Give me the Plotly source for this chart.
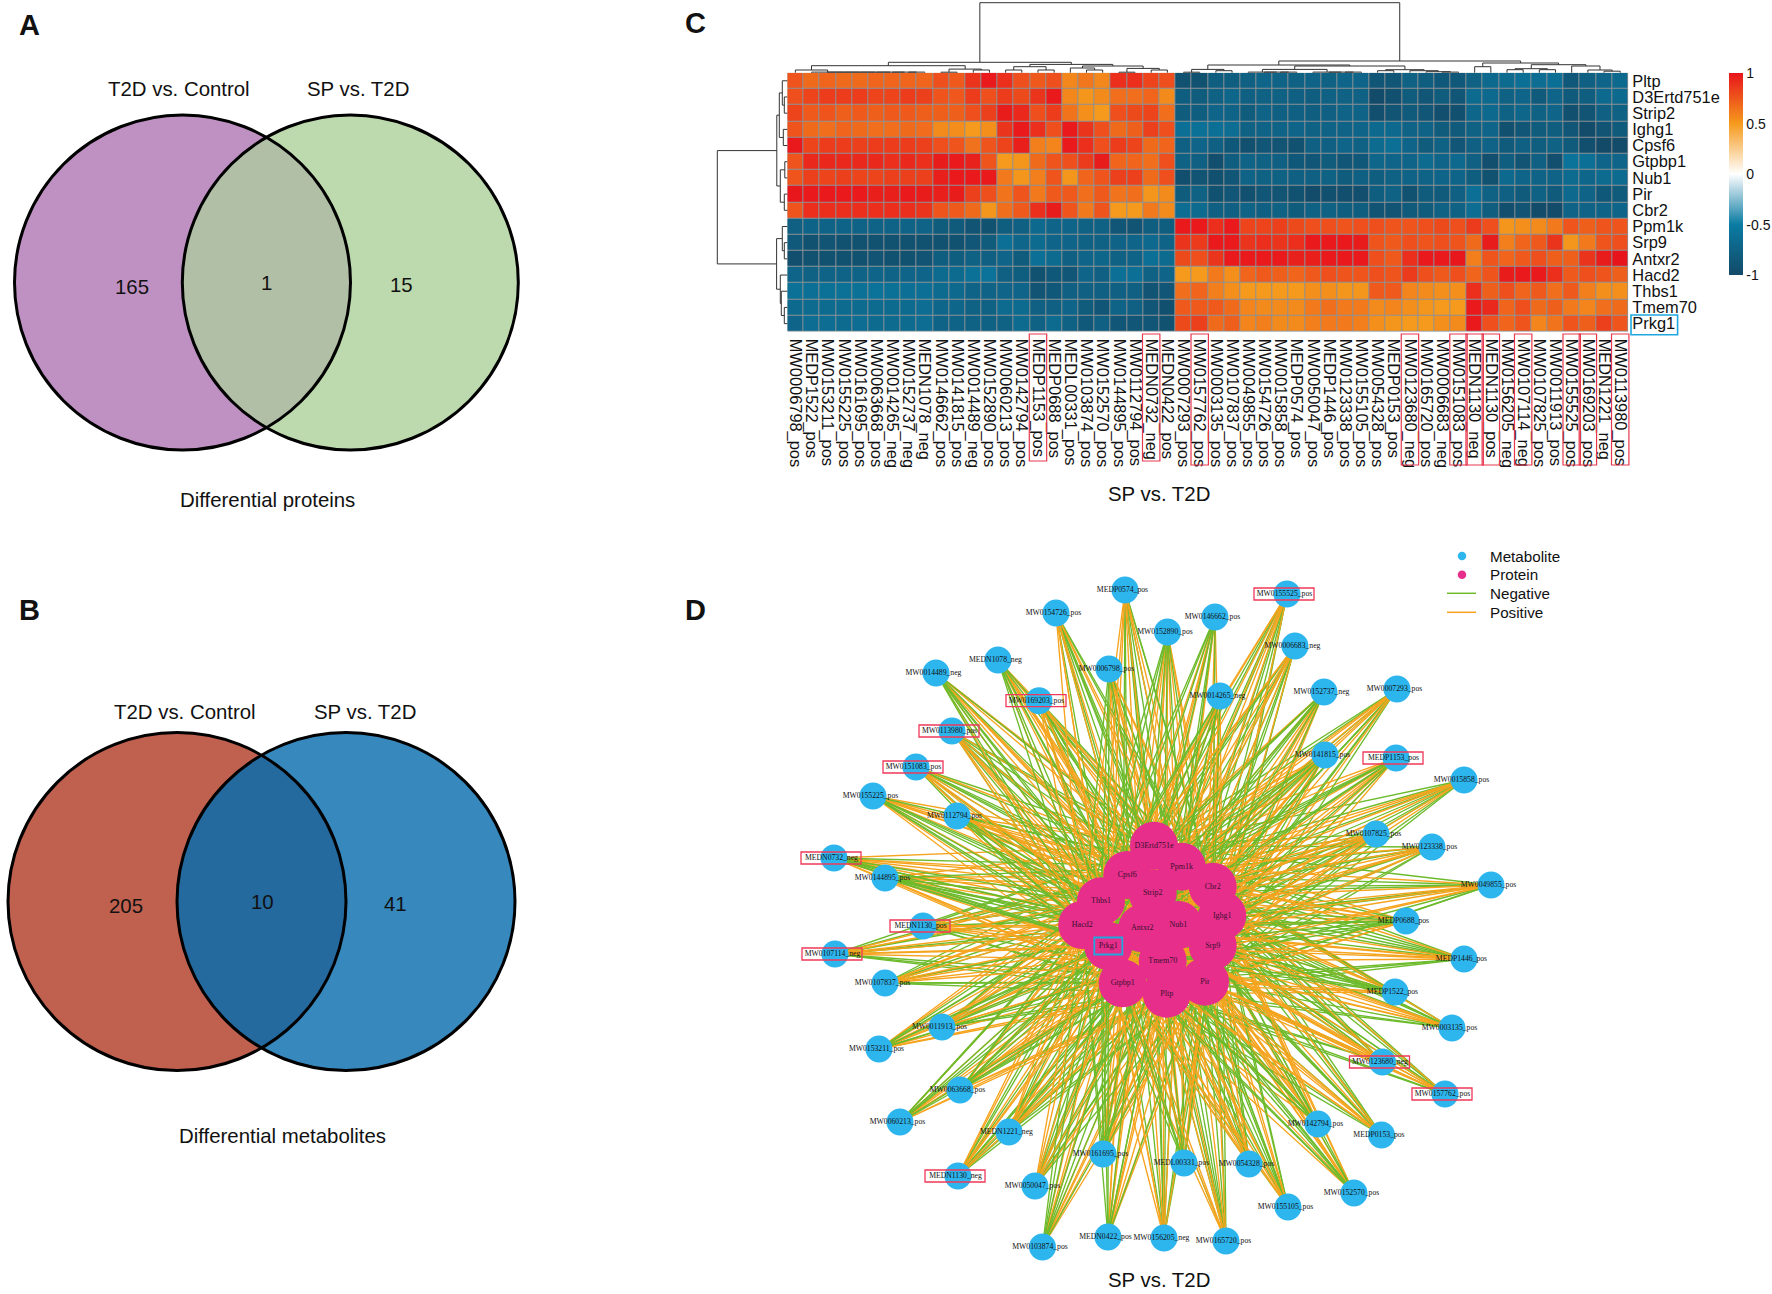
import numpy as np
import plotly.graph_objects as go

W, H = 1772, 1294
SANS = "Liberation Sans"
SERIF = "Liberation Serif"

# ---------- Panel C data ----------
metabolites = ["MW0006798_pos","MEDP1522_pos","MW0153211_pos","MW0155225_pos","MW0161695_pos","MW0063668_pos",
    "MW0014265_neg","MW0152737_neg","MEDN1078_neg","MW0146662_pos","MW0141815_pos","MW0014489_neg","MW0152890_pos",
    "MW0060213_pos","MW0142794_pos","MEDP1153_pos","MEDP0688_pos","MEDL00331_pos","MW0103874_pos","MW0152570_pos",
    "MW0144895_pos","MW0112794_pos","MEDN0732_neg","MEDN0422_pos","MW0007293_pos","MW0157762_pos","MW0003135_pos",
    "MW0107837_pos","MW0049855_pos","MW0154726_pos","MW0015858_pos","MEDP0574_pos","MW0050047_pos","MEDP1446_pos",
    "MW0123338_pos","MW0155105_pos","MW0054328_pos","MEDP0153_pos","MW0123680_neg","MW0165720_pos","MW0006683_neg",
    "MW0151083_pos","MEDN1130_neg","MEDN1130_pos","MW0156205_neg","MW0107114_neg","MW0107825_pos","MW0011913_pos",
    "MW0155525_pos","MW0169203_pos","MEDN1221_neg","MW0113980_pos"]
proteins = ["Pltp","D3Ertd751e","Strip2","Ighg1","Cpsf6","Gtpbp1","Nub1","Pir","Cbr2","Ppm1k","Srp9","Antxr2",
    "Hacd2","Thbs1","Tmem70","Prkg1"]
highlighted = ["MEDP1153_pos","MEDN0732_neg","MW0157762_pos","MW0123680_neg","MW0151083_pos","MEDN1130_neg",
    "MEDN1130_pos","MW0107114_neg","MW0155525_pos","MW0169203_pos","MW0113980_pos"]

pltp = [.76,.68,.7,.68,.68,.7,.7,.7,.7,.78,.74,.88,.98,.9,.78,.74,.78,.57,.63,.57,.9,.9,.82,.78,
    -.92,-.92,-.8,-.8,-.78,-.72,-.74,-.76,-.74,-.76,-.72,-.72,-.88,-.88,-.76,-.8,-.86,-.86,-.76,-.68,-.66,-.62,-.64,-.62,-.86,-.78,-.72,-.68]
d3ertd751e = [.78,.82,.85,.85,.85,.82,.82,.85,.84,.76,.75,.85,.78,.85,.8,.88,.98,.57,.52,.56,.66,.66,.7,.56,
    -.8,-.82,-.76,-.7,-.78,-.76,-.76,-.78,-.8,-.76,-.76,-.76,-.98,-.94,-.82,-.88,-.82,-.88,-.66,-.68,-.76,-.72,-.84,-.72,-.84,-.8,-.68,-.68]
strip2 = [.82,.74,.76,.72,.74,.72,.74,.74,.72,.72,.72,.78,.84,.97,.92,.78,.85,.64,.54,.5,.78,.8,.82,.66,
    -.82,-.8,-.72,-.74,-.82,-.74,-.78,-.78,-.8,-.78,-.74,-.74,-.96,-.9,-.84,-.88,-.96,-.94,-.7,-.68,-.76,-.7,-.76,-.72,-.94,-.9,-.78,-.76]
ighg1 = [.76,.68,.66,.7,.68,.66,.66,.68,.67,.56,.55,.5,.54,.88,.98,.9,.78,.98,.88,.78,.68,.72,.84,.78,
    -.62,-.6,-.62,-.64,-.76,-.74,-.74,-.72,-.76,-.74,-.74,-.72,-.68,-.68,-.74,-.74,-.82,-.84,-.76,-.72,-.94,-.88,-.82,-.8,-.88,-.98,-.9,-.84]
cpsf6 = [.98,.82,.85,.85,.84,.85,.85,.85,.84,.78,.76,.65,.76,.82,.96,.6,.58,.98,.9,.78,.85,.82,.68,.7,
    -.78,-.72,-.78,-.86,-.94,-.88,-.9,-.92,-.78,-.78,-.72,-.76,-.66,-.62,-.72,-.82,-.76,-.88,-.78,-.74,-.84,-.78,-.8,-.76,-.84,-.96,-1,-.98]
gtpbp1 = [.76,.92,.92,.92,.92,.92,.9,.92,.9,.97,.98,.95,.76,.5,.52,.68,.76,.78,.86,.97,.7,.7,.66,.78,
    -.76,-.78,-.96,-.8,-.74,-.76,-.78,-.86,-.88,-.82,-.88,-.86,-.7,-.72,-.72,-.66,-.72,-.68,-.78,-.96,-.8,-.9,-.78,-.96,-.58,-.62,-.72,-.72]
nub1 = [.76,.84,.82,.84,.82,.82,.84,.84,.84,.96,.98,.98,.98,.62,.52,.6,.76,.52,.7,.76,.84,.84,.68,.78,
    -.96,-.9,-.94,-.88,-.74,-.76,-.76,-.78,-.78,-.76,-.82,-.78,-.8,-.76,-.74,-.74,-.72,-.72,-.8,-.92,-.68,-.72,-.74,-.74,-.66,-.7,-.66,-.66]
pir = [.99,.98,.98,.98,.98,.96,.96,.98,.97,.96,.97,.84,.78,.64,.76,.62,.74,.74,.66,.74,.64,.66,.52,.56,
    -.82,-.76,-.92,-.88,-.94,-.88,-.9,-.92,-.98,-.94,-.96,-.96,-.8,-.76,-.92,-.82,-.84,-.78,-.62,-.76,-.78,-.84,-.76,-.84,-.68,-.74,-.86,-.84]
cbr2 = [.76,.9,.9,.9,.9,.9,.9,.9,.88,.76,.74,.68,.52,.66,.74,.9,.97,.76,.62,.76,.5,.5,.62,.56,
    -.64,-.66,-.78,-.78,-.74,-.78,-.76,-.82,-.76,-.76,-.8,-.8,-.9,-.9,-.84,-.82,-.76,-.76,-.64,-.8,-.96,-.9,-.98,-.98,-.74,-.74,-.74,-.72]
ppm1k = [-.78,-.73,-.75,-.73,-.74,-.75,-.75,-.75,-.75,-.82,-.84,-.9,-.92,-.8,-.78,-.68,-.72,-.72,-.76,-.76,-.88,-.9,-.8,-.8,
    .98,.98,.9,.98,.82,.82,.84,.8,.78,.78,.76,.78,.78,.76,.76,.78,.8,.78,.86,.78,.52,.54,.56,.62,.76,.72,.76,.76]
srp9 = [-.85,-.92,-.9,-.92,-.92,-.92,-.92,-.92,-.92,-.92,-.92,-.88,-.82,-.62,-.7,-.66,-.72,-.72,-.76,-.76,-.74,-.72,-.68,-.74,
    .88,.86,.98,.98,.88,.9,.88,.9,.98,.98,.98,.97,.76,.74,.78,.76,.78,.76,.68,.97,.6,.7,.74,.88,.52,.62,.76,.78]
antxr2 = [-.95,-.92,-.92,-.92,-.92,-.9,-.92,-.92,-.9,-.8,-.8,-.76,-.78,-.72,-.82,-.62,-.66,-.78,-.72,-.7,-.76,-.74,-.62,-.66,
    .8,.78,.88,.98,.98,.98,.98,.95,.96,.98,.98,.98,.78,.74,.9,.98,.98,.99,.6,.76,.7,.74,.78,.72,.72,.88,.97,1]
hacd2 = [-.72,-.76,-.74,-.74,-.74,-.72,-.74,-.72,-.72,-.66,-.66,-.6,-.58,-.78,-.8,-.92,-.86,-.88,-.72,-.78,-.62,-.62,-.76,-.72,
    .5,.5,.62,.54,.7,.74,.72,.7,.74,.78,.76,.76,.78,.76,.86,.78,.74,.78,.7,.76,.97,.98,.98,.9,.74,.78,.76,.72]
thbs1 = [-.6,-.62,-.6,-.6,-.6,-.58,-.6,-.62,-.62,-.66,-.68,-.74,-.74,-.72,-.72,-.9,-.86,-.78,-.78,-.78,-.78,-.78,-.9,-.88,
    .66,.7,.6,.54,.5,.5,.5,.5,.54,.54,.52,.52,.74,.74,.58,.56,.54,.54,.9,.72,.78,.7,.74,.66,.74,.6,.54,.54]
tmem70 = [-.68,-.66,-.66,-.66,-.66,-.66,-.66,-.66,-.64,-.7,-.7,-.76,-.76,-.66,-.66,-.78,-.78,-.72,-.82,-.88,-.74,-.78,-.88,-.94,
    .74,.74,.74,.68,.58,.56,.56,.56,.62,.66,.62,.62,.56,.58,.54,.52,.5,.5,.98,.92,.7,.78,.68,.72,.62,.58,.66,.68]
prkg1 = [-.72,-.64,-.64,-.66,-.64,-.66,-.66,-.66,-.64,-.74,-.74,-.76,-.76,-.76,-.66,-.76,-.66,-.76,-.85,-.78,-.88,-.88,-.88,-.92,
    .8,.84,.68,.72,.58,.6,.56,.56,.6,.62,.62,.6,.54,.52,.5,.5,.54,.56,.98,.78,.7,.76,.58,.64,.76,.72,.84,.76]
z = [pltp,d3ertd751e,strip2,ighg1,cpsf6,gtpbp1,nub1,pir,cbr2,ppm1k,srp9,antxr2,hacd2,thbs1,tmem70,prkg1]

# Dendrograms: (merge height, child, child); leaves are indices
def chain(leaves, h=0.6):
    node = leaves[-1]
    for l in reversed(leaves[:-1]):
        node = (h, l, node)
    return node

col_left = (10.4,
    (7, (2.7, 0, chain([1,2,3,4,5,6,7,8])), (3.6, (0.5,9,10), (2.7,11,12))),
    (8.3, (6, (2.7,13,14), (2.7,15,16)), (6.7, (4.7,17,(2.7,18,19)), (4.3,(0.5,20,21),(2.7,22,23)))))
col_right = (11.7,
    (7.7, (3.3, (0.5,24,25), (2,26,27)), (6.7, (3.3, chain([28,29,30,31]), chain([32,33,34,35])),
        (3, (2,36,37), (2, 38, (1, 39, (0.6,40,41)))))),
    (9.7, (6, 42, 43), (8, (4, (3,44,45), (3,46,47)), (6.7, 48, (2.7,49,(1.5,50,51))))))
col_tree = (70, col_left, col_right)
row_tree = (70,
    (10.5, (8,(5,0,(3,1,2)),(4,3,4)), (7,(2.5,5,6),(3,7,8))),
    (10.7, (5,9,(3,10,11)), (7,12,(6,13,(3,14,15)))))

# ---------- Panel D layout (node centres, image pixels) ----------
metabolite_x = [1109,1395,879,873,1103,960,1220,1324,998,1215,1325,936,1167.5,900,1318,1396,1406,1184,1042.5,1354,
    885,957,834,1108,1397,1445,1452,885,1491,1056,1464,1125,1035,1464,1432,1288,1249,1381.5,1382.5,1226,1295,916,
    958,923,1164,835,1376,942,1287,1039,1009,952]
metabolite_y = [669,992,1049,796,1154,1090,696,692,660,617,755,673,632,1122,1124,758,921,1163,1247,1193,
    878,816,858,1237,689,1094,1028,983,885,613,780,590,1186,959,847,1207,1164,1135,1062,1241,646,767,
    1176,926,1238,954,834,1027,594,700.7,1132,731]
protein_x = [1166.7,1154,1152.7,1222.3,1127.3,1122.7,1178.3,1205,1212.7,1181.7,1212.7,1142.3,1082.3,1101,1162.7,1108.3]
protein_y = [993.7,845.7,893.3,915.7,875,983.3,925,981.7,886.7,866.7,945.7,928.3,925,901.3,961,946]
legend_names = ["Metabolite", "Protein", "Negative", "Positive"]

# ---------- Panels A and B data ----------
venn_set_names = ["T2D vs. Control", "SP vs. T2D"]
venn_a_counts = [165, 1, 15]
venn_b_counts = [205, 10, 41]

# ---------- Pixel helpers ----------
hm_x0, hm_x1, hm_y0, hm_y1 = 787.3, 1628.3, 72.7, 331.7
cw = (hm_x1 - hm_x0) / len(metabolites)
rh = (hm_y1 - hm_y0) / len(proteins)
def col_px(i): return hm_x0 + cw * (i + .5)
def row_px(i): return hm_y0 + rh * (i + .5)

fig = go.Figure()

# ---------- Heatmap ----------
colorscale = [[0, "#134a68"], [.25, "#0a7ba3"], [.5, "#ffffff"], [.75, "#f59a1c"], [1, "#e8141c"]]
fig.add_trace(go.Heatmap(z=z, x=list(range(len(metabolites))), y=list(range(len(proteins))),
    zmin=-1, zmax=1, colorscale=colorscale, xgap=1, ygap=1, hoverinfo="skip",
    xaxis="x", yaxis="y",
    colorbar=dict(x=1729/W, xanchor="left", y=1-174.2/H, yanchor="middle", len=201.7, lenmode="pixels",
        thickness=13.7, thicknessmode="pixels", outlinewidth=0, borderwidth=0, xpad=0, ypad=0,
        tickvals=[-1,-.5,0,.5,1], ticktext=["-1","-0.5","0","0.5","1"], ticks="", ticklen=0,
        tickfont=dict(size=14, color="#111", family=SANS))))

# ---------- Dendrograms ----------
def walk(node, pos, xs, ys):
    if not isinstance(node, tuple):
        return pos(node), 0.0
    h, a, b = node
    pa, ha = walk(a, pos, xs, ys)
    pb, hb = walk(b, pos, xs, ys)
    xs += [pa, pa, pb, pb, None]
    ys += [ha, h, h, hb, None]
    return (pa + pb) / 2, h

dp, dh = [], []
walk(col_tree, col_px, dp, dh)
fig.add_trace(go.Scatter(x=dp, y=[None if v is None else hm_y0 - v for v in dh], mode="lines",
    line=dict(color="#333333", width=1), xaxis="x2", yaxis="y2", showlegend=False, hoverinfo="skip"))
dp, dh = [], []
walk(row_tree, row_px, dp, dh)
fig.add_trace(go.Scatter(x=[None if v is None else hm_x0 - v for v in dh], y=dp, mode="lines",
    line=dict(color="#333333", width=1), xaxis="x2", yaxis="y2", showlegend=False, hoverinfo="skip"))

# ---------- Network edges: sign from the correlation matrix ----------
GREEN, ORANGE = "#6dbb2c", "#f6a41e"
for r, p in enumerate(proteins):
    for sign, color in ((1, ORANGE), (-1, GREEN)):
        ex, ey = [], []
        for c in range(len(metabolites)):
            if z[r][c] * sign > 0:
                ex += [metabolite_x[c], protein_x[r], None]
                ey += [metabolite_y[c], protein_y[r], None]
        fig.add_trace(go.Scatter(x=ex, y=ey, mode="lines", line=dict(color=color, width=1.35),
            xaxis="x2", yaxis="y2", showlegend=False, hoverinfo="skip"))

fig.add_trace(go.Scatter(x=metabolite_x, y=metabolite_y, mode="markers",
    marker=dict(size=27, color="#2db5ee", line=dict(width=0)), xaxis="x2", yaxis="y2", showlegend=False, hoverinfo="skip"))
fig.add_trace(go.Scatter(x=protein_x, y=protein_y, mode="markers",
    marker=dict(size=48, color="#e72e8b", line=dict(width=0)), xaxis="x2", yaxis="y2", showlegend=False, hoverinfo="skip"))
fig.add_trace(go.Scatter(x=[v - 2.5 for v in metabolite_x], y=metabolite_y, text=metabolites, mode="text",
    textfont=dict(family=SERIF, size=7.7, color="#111"), xaxis="x2", yaxis="y2", showlegend=False, hoverinfo="skip"))
fig.add_trace(go.Scatter(x=protein_x, y=protein_y, text=proteins, mode="text",
    textfont=dict(family=SERIF, size=8, color="#3a1030"), xaxis="x2", yaxis="y2", showlegend=False, hoverinfo="skip"))

# ---------- Network key ----------
key_y = [556, 574.7, 593.3, 612.3]
fig.add_trace(go.Scatter(x=[1462, 1462], y=key_y[:2], mode="markers",
    marker=dict(size=8.5, color=["#2db5ee", "#e72e8b"], line=dict(width=0)), xaxis="x2", yaxis="y2",
    showlegend=False, hoverinfo="skip"))
for yy, color in ((key_y[2], GREEN), (key_y[3], ORANGE)):
    fig.add_trace(go.Scatter(x=[1447, 1476], y=[yy, yy], mode="lines", line=dict(color=color, width=1.5),
        xaxis="x2", yaxis="y2", showlegend=False, hoverinfo="skip"))

# ---------- Shapes ----------
shapes = []
def rect(x0, y0, x1, y1, color, width=1.3, layer="above"):
    shapes.append(dict(type="rect", xref="x2", yref="y2", x0=x0, y0=y0, x1=x1, y1=y1,
        line=dict(color=color, width=width), fillcolor="rgba(0,0,0,0)", layer=layer))

def venn(c1, c2, cy, rx, ry, left, right, mid, lw=3):
    for c, col in ((c1, left), (c2, right)):
        shapes.append(dict(type="circle", xref="x2", yref="y2", x0=c-rx, x1=c+rx, y0=cy-ry, y1=cy+ry,
            fillcolor=col, line=dict(width=0), layer="above"))
    xi = (c1 + c2) / 2
    dy = ry * np.sqrt(1 - ((xi - c1) / rx) ** 2)
    t = np.linspace(-dy, dy, 80)
    xr = c1 + rx * np.sqrt(1 - (t / ry) ** 2)
    xl = c2 - rx * np.sqrt(1 - (t[::-1] / ry) ** 2)
    pts = list(zip(xr, cy + t)) + list(zip(xl, cy + t[::-1]))
    path = "M" + "L".join(f"{a:.2f},{b:.2f}" for a, b in pts) + "Z"
    shapes.append(dict(type="path", xref="x2", yref="y2", path=path, fillcolor=mid, line=dict(width=0), layer="above"))
    for c in (c1, c2):
        shapes.append(dict(type="circle", xref="x2", yref="y2", x0=c-rx, x1=c+rx, y0=cy-ry, y1=cy+ry,
            fillcolor="rgba(0,0,0,0)", line=dict(color="#000", width=lw), layer="above"))

venn(182.5, 350.3, 282.5, 168, 167.5, "#bf91c3", "#bdd9ae", "#b2bfa7")
venn(177, 346, 901.6, 169, 169, "#c06150", "#3688bd", "#246a9e")

shapes.insert(0, dict(type="rect", xref="x", yref="y", x0=-.5, x1=len(metabolites)-.5, y0=-.5, y1=len(proteins)-.5,
    fillcolor="#8d9296", line=dict(width=0), layer="below"))

RED = "#e8384f"
for i, m in enumerate(metabolites):
    if m in highlighted:
        rect(col_px(i) - 8.7, 334, col_px(i) + 8.7, 461 if i < 24 else 465, RED, 1.2)
rect(1631, 315, 1677.6, 334.7, "#1fa8e0", 1.6)

for m in highlighted:
    i = metabolites.index(m)
    x, y = metabolite_x[i] - 3, metabolite_y[i]
    rect(x - 30, y - 6, x + 30, y + 6, "#f0385a", 1.3)
i = proteins.index("Prkg1")
rect(protein_x[i] - 14, protein_y[i] - 8.5, protein_x[i] + 14, protein_y[i] + 8.5, "#1fa8e0", 1.8)

# ---------- Text ----------
ann = []
def text(x, y, s, size=20.4, bold=False, color="#111", anchor="center"):
    ann.append(dict(x=x, y=y, xref="x2", yref="y2", text=f"<b>{s}</b>" if bold else str(s), showarrow=False,
        xanchor=anchor, yanchor="middle", font=dict(family=SANS, size=size, color=color)))

text(29, 25, "A", 29, True); text(29, 610, "B", 29, True); text(695, 23, "C", 29, True); text(695, 610, "D", 29, True)
text(178.5, 89, venn_set_names[0]); text(358, 89, venn_set_names[1])
text(132, 286.7, venn_a_counts[0]); text(266, 283, venn_a_counts[1]); text(401, 285, venn_a_counts[2])
text(267, 500, "Differential proteins")
text(185, 711.5, venn_set_names[0]); text(365, 711.5, venn_set_names[1])
text(125.7, 906, venn_b_counts[0]); text(262, 901.5, venn_b_counts[1]); text(395.3, 904, venn_b_counts[2])
text(282.4, 1135.5, "Differential metabolites")
text(1159.4, 494, "SP vs. T2D"); text(1159, 1280, "SP vs. T2D")
for yy, name in zip(key_y, legend_names):
    text(1487.5, yy, name, 15.2, anchor="left", color="#111")

fig.update_layout(
    width=W, height=H, margin=dict(l=0, r=0, t=0, b=0, pad=0), autosize=False,
    paper_bgcolor="white", plot_bgcolor="rgba(0,0,0,0)",
    font=dict(family=SANS, color="#111"), showlegend=False,
    shapes=shapes, annotations=ann,
    xaxis=dict(domain=[hm_x0/W, hm_x1/W], range=[-.5, len(metabolites)-.5], anchor="y", showgrid=False, zeroline=False,
        showline=False, tickmode="array", tickvals=list(range(len(metabolites))), ticktext=metabolites, tickangle=90,
        ticks="", tickfont=dict(size=16.4, family=SANS, color="#111"), ticklabelstandoff=6, automargin=False),
    yaxis=dict(domain=[1-hm_y1/H, 1-hm_y0/H], range=[len(proteins)-.5, -.5], anchor="x", side="right", showgrid=False,
        zeroline=False, showline=False, tickmode="array", tickvals=list(range(len(proteins))), ticktext=proteins,
        ticks="", tickfont=dict(size=16.4, family=SANS, color="#111"), ticklabelstandoff=3, automargin=False),
    xaxis2=dict(domain=[0, 1], range=[0, W], anchor="y2", visible=False, fixedrange=True),
    yaxis2=dict(domain=[0, 1], range=[H, 0], anchor="x2", visible=False, fixedrange=True),
)

fig.write_html("out.html", post_script="document.body.style.margin='0';", config={"displayModeBar": False})
